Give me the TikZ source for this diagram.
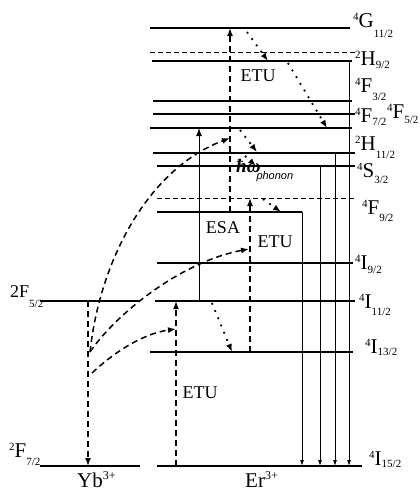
\documentclass[tikz,border=0pt]{standalone}
\usepackage{fontspec}
\setmainfont{Liberation Serif}
\setsansfont{Liberation Sans}
\usetikzlibrary{arrows.meta}
\newcommand{\term}[4][5pt]{\raisebox{6.5pt}{\fontsize{11}{11}\selectfont #2}#3\raisebox{-#1}{\fontsize{11}{11}\selectfont #4}}

\begin{document}
\begin{tikzpicture}[
  x=1pt, y=-1pt,
  >={Latex[length=8pt,width=6pt]},
  level/.style={line width=1.8pt},
  virtual/.style={line width=1pt, dash pattern=on 5pt off 3pt},
  etu/.style={->, line width=1.5pt, dash pattern=on 6pt off 4pt},
  relax/.style={->, line width=1.8pt, dash pattern=on 1.8pt off 6pt},
  emit/.style={-{Latex[length=6pt,width=4pt]}, line width=0.9pt},
  lab/.style={anchor=base west, inner sep=0pt, font=\fontsize{21}{21}\selectfont},
  note/.style={inner sep=0pt, font=\fontsize{18}{18}\selectfont}
]
\useasboundingbox (0,0) rectangle (420,491);
% levels
\foreach \n/\xa/\xb/\y in {G112/150/350/28, H92/152/352/61, F32/153/352/101, F52/153/355/114,
    F72/150/352/128, H112/153/355/153, S32/157/355/166, F92/157/302/212, I92/157/353/263,
    I112/155/355/301, I132/150/353/352, I152/157/362/466, Yb52/40/140/301, Yb72/40/140/466}
  \draw[level] (\xa,\y) coordinate (\n) -- (\xb,\y);
\draw[virtual] (150,52) coordinate (H92v) -- (355,52);
\draw[virtual] (157,198) coordinate (F92v) -- (355,198);

\node[lab] (tG112) at (353,27) {\term[10pt]{4}{G}{11/2}};
\node[lab] (tH92) at (355,65) {\term[3pt]{2}{H}{9/2}};
\node[lab] (tF32) at (355,92) {\term[8pt]{4}{F}{3/2}};
\node[lab] (tF52) at (387,118) {\term[5pt]{4}{F}{5/2}};
\node[lab] (tF72) at (355,122) {\term[3pt]{4}{F}{7/2}};
\node[lab] (tH112) at (355,150) {\term[8pt]{2}{H}{11/2}};
\node[lab] (tS32) at (357,177) {\term[6pt]{4}{S}{3/2}};
\node[lab] (tF92) at (362,214) {\term[7pt]{4}{F}{9/2}};
\node[lab] (tI92) at (355,269) {\term[4pt]{4}{I}{9/2}};
\node[lab] (tI112) at (359,308) {\term[7pt]{4}{I}{11/2}};
\node[lab] (tI132) at (365,353) {\term[2pt]{4}{I}{13/2}};
\node[lab] (tI152) at (369,465) {\term[2pt]{4}{I}{15/2}};
\node[lab, font=\fontsize{18}{18}\selectfont] (tYb52) at (10,297) {2F\raisebox{-10pt}{\fontsize{11}{11}\selectfont 5/2}};
\node[lab] (tYb72) at (9,457) {\term[8pt]{2}{F}{7/2}};
\node[lab] (yb) at (77,487) {Yb\raisebox{8pt}{\fontsize{12}{12}\selectfont 3+}};
\node[lab] (er) at (245,487) {Er\raisebox{8pt}{\fontsize{12}{12}\selectfont 3+}};

\node[note] (etu1) at (258,76) {ETU};
\node[note] (etu2) at (275,242) {ETU};
\node[note] (esa) at (223,228) {ESA};
\node[note] (etu3) at (200,393) {ETU};
\node[inner sep=0pt, anchor=base west] (phon) at (236,172)
  {\fontsize{19}{19}\selectfont\bfseries\itshape ħω\hspace{-4pt}\raisebox{-7pt}{\fontsize{11}{11}\selectfont\sffamily\mdseries phonon}};

% transitions
\coordinate (cY) at (88,0);
\coordinate (cA) at (176,0);
\coordinate (cB) at (199,0);
\coordinate (cC) at (230,0);
\coordinate (cD) at (250,0);
\coordinate (e1) at (302,0);
\coordinate (e2) at (320,0);
\coordinate (e3) at (335,0);
\coordinate (e4) at (349,0);
\draw[etu] (cY |- Yb52) -- (cY |- Yb72);
\draw[etu] (cA |- I152) -- (cA |- I112);
\draw[etu] (cD |- I132) -- (cD |- F92v);
\draw[etu] (cC |- F92) -- (cC |- G112);
\draw[->, line width=1pt] (cB |- I112) -- (cB |- F72);
\foreach \e/\l in {e1/F92, e2/S32, e3/H112, e4/H92}
  \draw[emit] (\e |- \l) -- (\e |- I152);

\coordinate (s1) at (90,352);
\coordinate (s2) at (92,373);
\coordinate (t1) at (230,138);
\coordinate (t2) at (249,249);
\coordinate (t3) at (176,329);
\draw[etu] (s1) .. controls (100,260) and (148,169) .. (t1);
\draw[etu] (s1) .. controls (115,315) and (180,262) .. (t2);
\draw[etu] (s2) .. controls (110,356) and (140,334) .. (t3);

\path (247,32) coordinate (ra1) (268,61) coordinate (rb1)
      (288,63) coordinate (ra2) (327,128) coordinate (rb2)
      (240,130) coordinate (ra3) (257,152) coordinate (rb3)
      (245,156) coordinate (ra4) (256,166) coordinate (rb4)
      (263,199) coordinate (ra5) (281,212) coordinate (rb5)
      (212,303) coordinate (ra6) (232,352) coordinate (rb6);
\foreach \i in {1,...,6}
  \draw[relax] (ra\i) -- (rb\i);
\end{tikzpicture}
\end{document}
